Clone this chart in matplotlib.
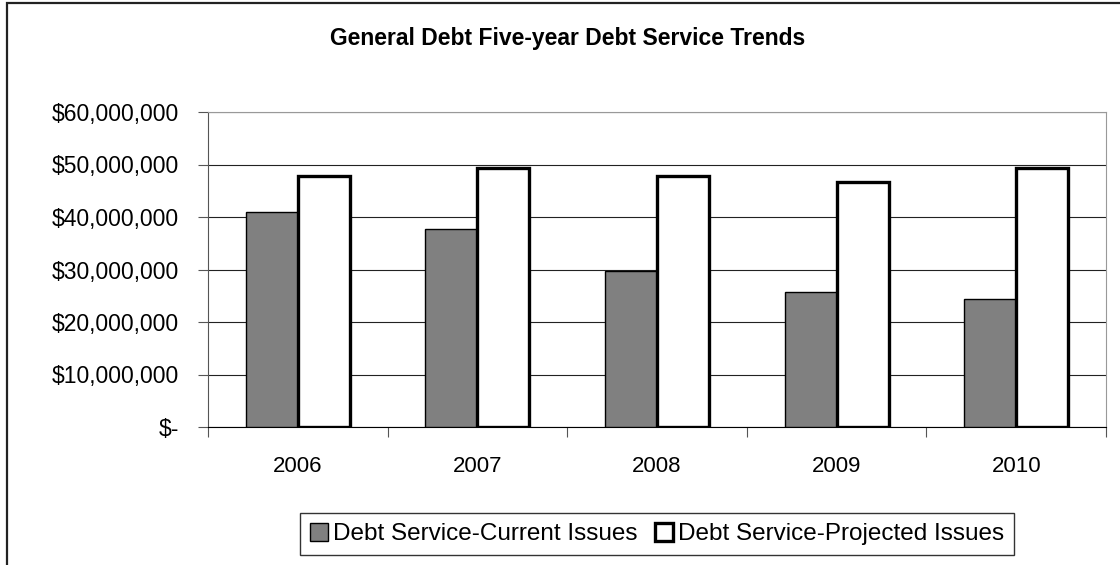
import matplotlib
matplotlib.use('Agg')
import matplotlib.pyplot as plt
import matplotlib.patches as mpatches
from matplotlib.ticker import FuncFormatter
import numpy as np

plt.rcParams['font.family'] = ['Liberation Sans', 'DejaVu Sans']

anos = ['2006', '2007', '2008', '2009', '2010']
atuais = [40.9e6, 37.8e6, 29.8e6, 25.7e6, 24.4e6]
projetados = [47.9e6, 49.4e6, 47.9e6, 46.6e6, 49.3e6]

fig = plt.figure(figsize=(11.2, 5.65), dpi=100)
ax = fig.add_axes([208 / 1120, 1 - 427 / 565, 898 / 1120, 315 / 565])

x = np.arange(len(anos))
w = 0.29
ax.bar(x - w / 2, atuais, w, color='#808080', edgecolor='black', linewidth=1.0,
       label='Debt Service-Current Issues', zorder=3)
ax.bar(x + w / 2, projetados, w, color='white', edgecolor='black', linewidth=2.4,
       label='Debt Service-Projected Issues', zorder=3)

ax.set_xlim(-0.5, len(anos) - 0.5)
ax.set_ylim(0, 60e6)
ax.set_yticks(np.arange(0, 60e6 + 1, 10e6))
ax.yaxis.set_major_formatter(FuncFormatter(lambda v, p: '$-' if v == 0 else '${:,.0f}'.format(v)))
ax.yaxis.grid(True, color='#222222', linewidth=0.8, zorder=0)

# ticks nas fronteiras das categorias, labels no centro
ax.set_xticks(np.arange(-0.5, len(anos), 1.0))
ax.set_xticklabels([])
ax.set_xticks(x, minor=True)
ax.set_xticklabels(anos, minor=True, fontsize=16)
ax.tick_params(axis='x', which='minor', length=0, pad=21)
ax.tick_params(axis='x', which='major', length=7, color='#555555')
ax.tick_params(axis='y', length=7, labelsize=16.5, pad=14, color='#555555')

for s in ['top', 'right']:
    ax.spines[s].set_color('#999999')
ax.spines['left'].set_color('#555555')
ax.spines['bottom'].set_color('black')

fig.text(568 / 1120, 1 - 38 / 565, 'General Debt Five-year Debt Service Trends',
         ha='center', va='center', fontsize=16.5, fontweight='bold')

leg = fig.legend(loc='center', bbox_to_anchor=(657 / 1120, 1 - 534 / 565), ncol=2,
                 fontsize=17.5, frameon=True, fancybox=False, handlelength=0.75,
                 handleheight=0.75, handletextpad=0.2, columnspacing=0.7,
                 borderpad=0.4, borderaxespad=0)
leg.get_frame().set_edgecolor('black')
leg.get_frame().set_linewidth(1.0)

# moldura do gráfico
fig.patches.append(mpatches.Rectangle((7 / 1120, -0.1), 1.2, 1.1 - 3 / 565,
                                      transform=fig.transFigure, fill=False,
                                      edgecolor='#222222', linewidth=1.6))

fig.savefig('out.png', dpi=100)
